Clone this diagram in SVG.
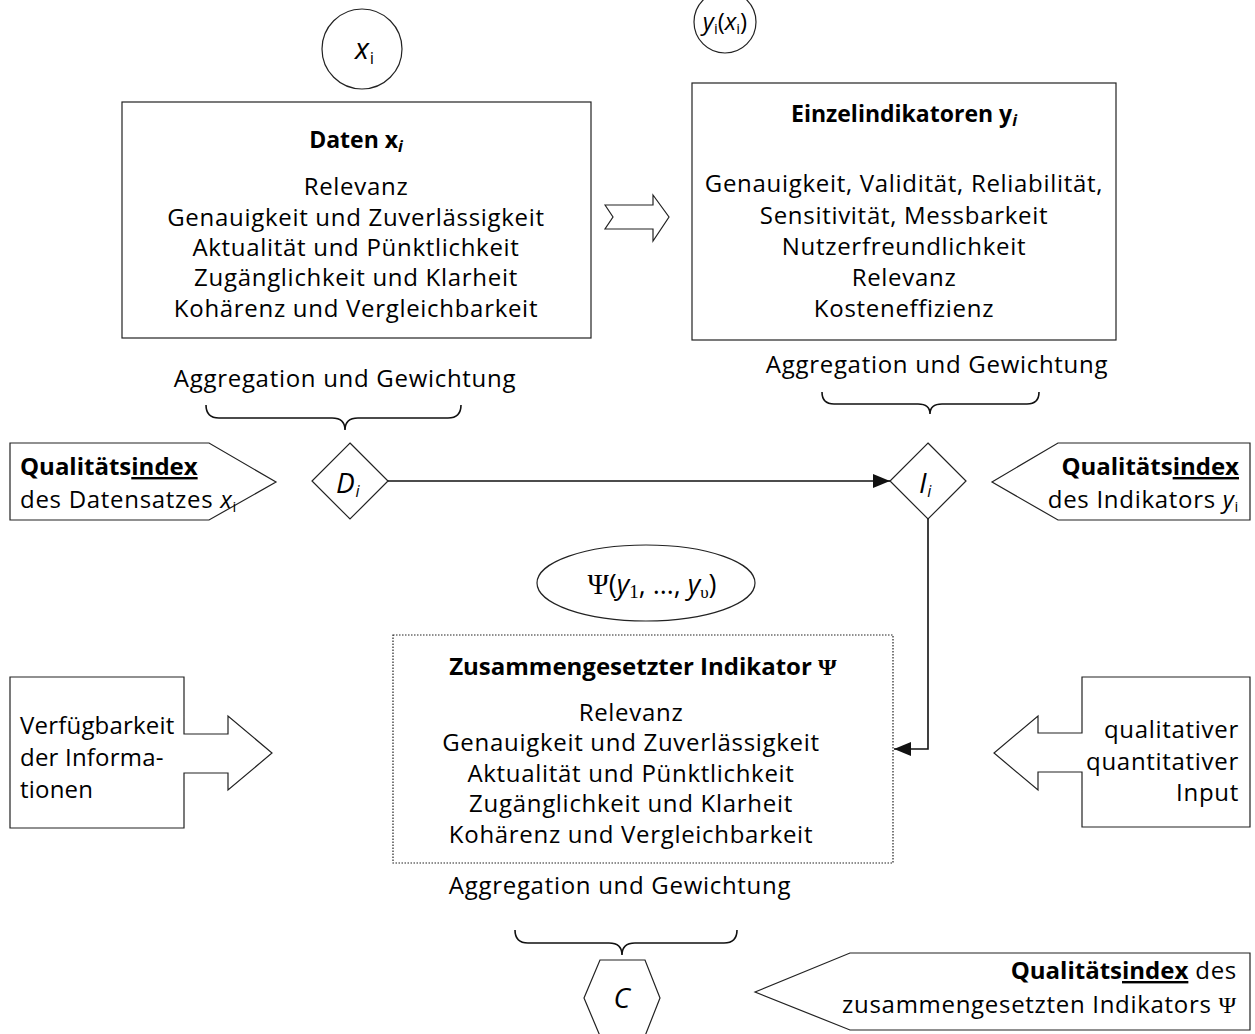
<svg xmlns="http://www.w3.org/2000/svg" width="1255" height="1034" viewBox="0 0 1255 1034">
<style>
.t{font-family:"Open Sans","Noto Sans",sans-serif;font-size:24px;letter-spacing:0.7px;fill:#000}
.b{font-weight:bold;letter-spacing:0}
.c{text-anchor:middle}
.r{text-anchor:end}
.i{font-style:italic}
.s{font-family:"Liberation Serif",serif}
.sh{fill:#fff;stroke:#222;stroke-width:1.2}
.ln{fill:none;stroke:#111;stroke-width:1.6}
.br{fill:none;stroke:#111;stroke-width:1.6}
</style>
<defs>
<marker id="ah" markerUnits="userSpaceOnUse" markerWidth="18" markerHeight="14" refX="17" refY="7" orient="auto">
<path d="M0,0 L17,7 L0,14 z" fill="#111"/>
</marker>
</defs>
<rect width="1255" height="1034" fill="#fff"/>

<g id="circle-x">
<circle class="sh" cx="362" cy="49" r="40"/>
<text class="t" x="355" y="59" style="font-size:29px"><tspan class="i">x</tspan><tspan font-size="17" dy="5">i</tspan></text>
</g>

<g id="circle-y">
<circle class="sh" cx="725" cy="22" r="31"/>
<text class="t c" x="725" y="30" style="font-size:24px;letter-spacing:0"><tspan class="i">y</tspan><tspan font-size="15" dy="4">i</tspan><tspan dy="-4">(</tspan><tspan class="i">x</tspan><tspan font-size="15" dy="4">i</tspan><tspan dy="-4">)</tspan></text>
</g>

<g id="daten">
<rect class="sh" x="122" y="102" width="469" height="236"/>
<text class="t b c" x="356" y="148" style="font-size:23px">Daten x<tspan class="i" font-size="16" dy="4">i</tspan></text>
<text class="t c"><tspan x="356" y="195">Relevanz</tspan><tspan x="356" y="226">Genauigkeit und Zuverlässigkeit</tspan><tspan x="356" y="256">Aktualität und Pünktlichkeit</tspan><tspan x="356" y="286">Zugänglichkeit und Klarheit</tspan><tspan x="356" y="317">Kohärenz und Vergleichbarkeit</tspan></text>
</g>

<g id="hollow-arrow">
<polygon class="sh" points="605,205 613,217 605,229 653,229 653,241 669,217 653,195 653,205"/>
</g>

<g id="einzel">
<rect class="sh" x="692" y="83" width="424" height="257"/>
<text class="t b c" x="904" y="122" style="font-size:23px">Einzelindikatoren y<tspan class="i" font-size="16" dy="4">i</tspan></text>
<text class="t c"><tspan x="904" y="192">Genauigkeit, Validität, Reliabilität,</tspan><tspan x="904" y="224">Sensitivität, Messbarkeit</tspan><tspan x="904" y="255">Nutzerfreundlichkeit</tspan><tspan x="904" y="286">Relevanz</tspan><tspan x="904" y="317">Kosteneffizienz</tspan></text>
</g>

<g id="agg-left">
<text class="t c" x="345" y="387">Aggregation und Gewichtung</text>
<path class="br" d="M206,405 Q206,418 219,418 L332,418 Q345,418 345,430 Q345,418 358,418 L448,418 Q461,418 461,405"/>
</g>

<g id="agg-right">
<text class="t c" x="937" y="373">Aggregation und Gewichtung</text>
<path class="br" d="M822,392 Q822,404 834,404 L918,404 Q930,404 930,414 Q930,404 942,404 L1027,404 Q1039,404 1039,392"/>
</g>

<g id="qi-daten">
<polygon class="sh" points="10,443 209,443 276,482 209,520 10,520"/>
<text class="t b" x="20" y="475" style="font-size:24px">Qualitäts<tspan text-decoration="underline">index</tspan></text>
<text class="t" x="20" y="508">des Datensatzes <tspan class="i">x</tspan><tspan font-size="15" dy="4">i</tspan></text>
</g>

<g id="qi-indikator">
<polygon class="sh" points="1250,443 1058,443 992,482 1058,520 1250,520"/>
<text class="t b r" x="1239" y="475" style="font-size:24px">Qualitäts<tspan text-decoration="underline">index</tspan></text>
<text class="t r" x="1239" y="508">des Indikators <tspan class="i">y</tspan><tspan font-size="15" dy="4">i</tspan></text>
</g>

<g id="diamond-D">
<polygon class="sh" points="350,443 388,481 350,519 312,481"/>
<text class="t i" x="336" y="493" style="font-size:28px">D<tspan font-size="16" dy="4">i</tspan></text>
</g>

<g id="diamond-I">
<polygon class="sh" points="928,443 966,481 928,519 890,481"/>
<text class="t i" x="919" y="493" style="font-size:28px">I<tspan font-size="16" dy="4">i</tspan></text>
</g>

<g id="connectors">
<line class="ln" x1="388" y1="481" x2="890" y2="481" marker-end="url(#ah)"/>
<polyline class="ln" points="928,519 928,749 894,749" marker-end="url(#ah)"/>
</g>

<g id="psi">
<ellipse class="sh" cx="646" cy="583" rx="109" ry="38"/>
<text class="t c" x="652" y="594" style="letter-spacing:0;font-size:27px"><tspan class="s" font-size="29">Ψ</tspan>(<tspan class="i">y</tspan><tspan class="s" font-size="19" dy="4">1</tspan><tspan dy="-4">, …, </tspan><tspan class="i">y</tspan><tspan class="s" font-size="17" dy="4">υ</tspan><tspan dy="-4">)</tspan></text>
</g>

<g id="zusammen">
<rect x="393" y="635" width="500" height="228" fill="#fff" stroke="#222" stroke-width="1.2" stroke-dasharray="1.5 1.5"/>
<text class="t b c" x="643" y="675" style="font-size:24px">Zusammengesetzter Indikator  <tspan class="s">Ψ</tspan></text>
<text class="t c"><tspan x="631" y="721">Relevanz</tspan><tspan x="631" y="751">Genauigkeit und Zuverlässigkeit</tspan><tspan x="631" y="782">Aktualität und Pünktlichkeit</tspan><tspan x="631" y="812">Zugänglichkeit und Klarheit</tspan><tspan x="631" y="843">Kohärenz und Vergleichbarkeit</tspan></text>
</g>

<g id="verfuegbarkeit">
<polygon class="sh" points="10,677 184,677 184,734 228,734 228,716 272,753 228,790 228,773 184,773 184,828 10,828"/>
<text class="t" style="letter-spacing:0.2px"><tspan x="20" y="734">Verfügbarkeit</tspan><tspan x="20" y="766">der Informa-</tspan><tspan x="20" y="798">tionen</tspan></text>
</g>

<g id="input">
<polygon class="sh" points="1250,677 1082,677 1082,733 1038,733 1038,716 994,753 1038,790 1038,772 1082,772 1082,827 1250,827"/>
<text class="t r"><tspan x="1239" y="738">qualitativer</tspan><tspan x="1239" y="770">quantitativer</tspan><tspan x="1239" y="801">Input</tspan></text>
</g>

<g id="agg-bottom">
<text class="t c" x="620" y="894">Aggregation und Gewichtung</text>
<path class="br" d="M515,930 Q515,943 528,943 L609,943 Q622,943 622,955 Q622,943 635,943 L724,943 Q737,943 737,930"/>
</g>

<g id="hexagon-C">
<polygon class="sh" points="600,960 645,960 660,998 645,1036 600,1036 584,998"/>
<text class="t i c" x="622" y="1008" style="font-size:28px">C</text>
</g>

<g id="qi-zusammen">
<polygon class="sh" points="755,992 850,953 1250,953 1250,1030 850,1030"/>
<text class="t r"><tspan x="1237" y="979"><tspan class="b" style="font-size:24px">Qualitäts<tspan text-decoration="underline">index</tspan></tspan> des</tspan><tspan x="1237" y="1013">zusammengesetzten Indikators <tspan class="s">Ψ</tspan></tspan></text>
</g>
</svg>
